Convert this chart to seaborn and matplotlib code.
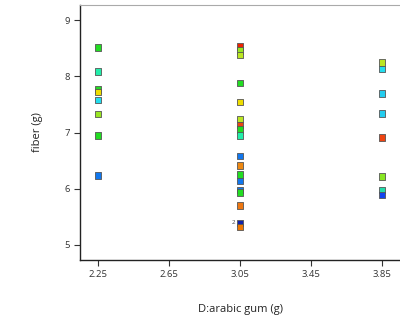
import pandas as pd
import matplotlib
matplotlib.use('Agg')
import matplotlib.pyplot as plt
import seaborn as sns

# design points
gum = [2.25] * 8 + [3.05] * 18 + [3.85] * 8
fiber = [8.51, 8.09, 7.77, 7.72, 7.58, 7.33, 6.95, 6.23,
         8.53, 8.46, 8.38, 7.88, 7.54, 7.24, 7.13, 7.05, 6.95,
         6.58, 6.41, 6.25, 6.14, 5.98, 5.93, 5.70, 5.39, 5.32,
         8.25, 8.13, 7.69, 7.34, 6.91, 6.22, 5.98, 5.89]
point_color = ['#22dd22', '#22eeaa', '#22dd22', '#eedd00', '#22ddee', '#99e622', '#22dd22', '#1177ee',
               '#ee2200', '#99e622', '#bbe622', '#22dd22', '#eedd00', '#bbe622', '#ee4411', '#22dd22', '#22eeaa',
               '#1177ee', '#ee8811', '#22dd22', '#1177ee', '#1177ee', '#22dd22', '#ee7711', '#1122aa', '#ee7700',
               '#bbe622', '#22ddee', '#22ccee', '#22ccee', '#ee4411', '#88e622', '#22ddaa', '#1144ee']

df = pd.DataFrame({'gum': gum, 'fiber': fiber, 'color': point_color})

sns.set_style('white')
plt.rcParams['font.family'] = ['Open Sans', 'DejaVu Sans']

fig = plt.figure(figsize=(4, 3.22), dpi=100)
ax = fig.add_axes([0.2, 0.1925, 0.8, 0.792])

sns.scatterplot(data=df, x='gum', y='fiber', hue='color',
                palette={c: c for c in set(point_color)}, legend=False,
                marker='s', s=22, edgecolor='#555555', linewidth=0.6, ax=ax)

# replicate marker
ax.text(3.025, 5.39, '2', fontsize=4.5, color='#444444', ha='right', va='center')

ax.set_xlim(2.148, 3.952)
ax.set_ylim(4.73, 9.27)
ax.set_xticks([2.25, 2.65, 3.05, 3.45, 3.85])
ax.set_xticklabels(['2.25', '2.65', '3.05', '3.45', '3.85'])
ax.set_yticks([5, 6, 7, 8, 9])
ax.tick_params(axis='both', labelsize=6.8, colors='#333333', length=4, width=0.8,
               direction='out', bottom=True, left=True)
ax.set_xlabel('D:arabic gum (g)', fontsize=8, color='#222222', labelpad=18)
ax.set_ylabel('fiber (g)', fontsize=8, color='#222222', labelpad=15)

ax.spines['right'].set_visible(False)
ax.spines['top'].set_color('#aaaaaa')
ax.spines['left'].set_color('#222222')
ax.spines['bottom'].set_color('#222222')
ax.spines['left'].set_linewidth(1.0)
ax.spines['bottom'].set_linewidth(1.0)

fig.savefig('out.png', dpi=100)
